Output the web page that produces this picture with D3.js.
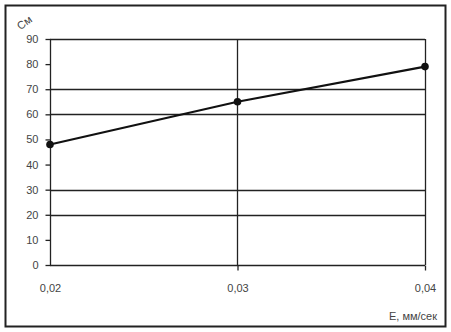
<!DOCTYPE html>
<html lang="ru">
    <head>
        <meta charset="UTF-8">
        <script src="https://cdn.jsdelivr.net/npm/d3@7/dist/d3.min.js"></script>
        <title>Chart</title>
        <style>
            body { margin: 0; background: #fff; }
            text { font-family: "Liberation Sans", Arial, sans-serif; font-size: 11px; fill: #444; }
        </style>
    </head>
    <body>
        <svg id="canvas" width="451" height="332"></svg>

        <script>
            // data
            var xValues = [0.02, 0.03, 0.04],
                yValues = [48, 65, 79],
                xTicks  = [0.02, 0.03, 0.04],
                xTickLabels = ["0,02", "0,03", "0,04"],
                yTicks  = [0, 10, 20, 30, 40, 50, 60, 70, 80, 90],
                gridY   = [0, 20, 30, 60, 70, 90];

            var svg = d3.select("svg#canvas");

            var x = d3.scaleLinear().domain([0.02, 0.04]).range([50, 425]),
                y = d3.scaleLinear().domain([0, 90]).range([265, 39]);

            // frame
            svg.append("rect")
                .attr("x", 5.5).attr("y", 5.5)
                .attr("width", 440).attr("height", 321)
                .attr("fill", "none").attr("stroke", "#222").attr("stroke-width", 2);

            // horizontal grid
            svg.selectAll("line.gy").data(gridY).enter().append("line")
                .attr("class", "gy")
                .attr("x1", x(0.02)).attr("x2", x(0.04))
                .attr("y1", function(d) { return Math.round(y(d)) + 0.5; })
                .attr("y2", function(d) { return Math.round(y(d)) + 0.5; })
                .attr("stroke", "#222").attr("stroke-width", 1.3);

            // vertical grid
            svg.selectAll("line.gx").data(xTicks).enter().append("line")
                .attr("class", "gx")
                .attr("x1", function(d) { return Math.round(x(d)) + 0.5; })
                .attr("x2", function(d) { return Math.round(x(d)) + 0.5; })
                .attr("y1", y(90)).attr("y2", y(0))
                .attr("stroke", "#222").attr("stroke-width", 1.3);

            // axes
            var yAxis = d3.axisLeft(y).tickValues(yTicks).tickSize(5).tickPadding(7)
                .tickFormat(d3.format("d"));
            var gy = svg.append("g").attr("transform", "translate(" + (x(0.02) + 0.5) + ",0)").call(yAxis);
            gy.select(".domain").remove();
            gy.selectAll(".tick line").attr("stroke", "#222").attr("stroke-width", 1.3);

            var xAxis = d3.axisBottom(x).tickValues(xTicks).tickSize(5).tickPadding(14)
                .tickFormat(function(d, i) { return xTickLabels[i]; });
            var gx = svg.append("g").attr("transform", "translate(0," + (y(0) + 0.5) + ")").call(xAxis);
            gx.select(".domain").remove();
            gx.selectAll(".tick line").attr("stroke", "#222").attr("stroke-width", 1.3);
            gx.selectAll(".tick").filter(function(d) { return d === 0.02; }).select("line").remove();
            svg.selectAll(".tick text").style("font-size", "11px").attr("fill", "#444");

            // series
            var pts = xValues.map(function(v, i) { return [x(v), y(yValues[i])]; });
            svg.append("path")
                .attr("d", d3.line()(pts))
                .attr("fill", "none").attr("stroke", "#111").attr("stroke-width", 2.2);
            svg.selectAll("circle.pt").data(pts).enter().append("circle")
                .attr("class", "pt")
                .attr("cx", function(d) { return d[0]; })
                .attr("cy", function(d) { return d[1]; })
                .attr("r", 3.8).attr("fill", "#111");

            // axis titles
            svg.append("text").attr("x", 17).attr("y", 28)
                .attr("transform", "rotate(-35,22,24)").text("См");
            svg.append("text").attr("x", 437).attr("y", 320)
                .attr("text-anchor", "end").text("Е, мм/сек");
        </script>
    </body>
</html>
